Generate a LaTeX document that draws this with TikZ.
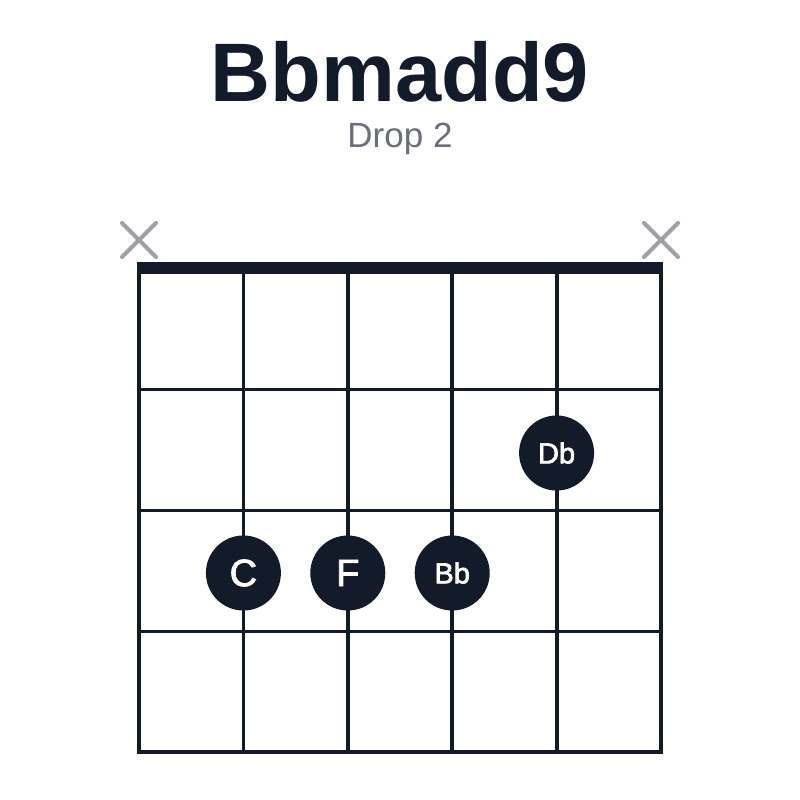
\documentclass[tikz,border=0pt]{standalone}
\usepackage{fontspec}
\setmainfont{Liberation Sans}
\newfontfamily\dotfont[FakeBold=2.2]{Liberation Sans}
\definecolor{ink}{HTML}{131A2A}
\definecolor{mute}{HTML}{9EA1A8}
\definecolor{sub}{HTML}{6B6F78}
\begin{document}
\begin{tikzpicture}[x=1pt,y=-1pt,
  gridline/.style={draw=ink,line width=3.8pt},
  nutline/.style={draw=ink,line width=12pt},
  mutemark/.style={draw=mute,line width=4.2pt,line cap=round},
  notedot/.style={circle,fill=ink,minimum size=75pt,inner sep=0pt,text=white},
  bigtxt/.style={font=\dotfont\fontsize{38}{38}\selectfont},
  smalltxt/.style={font=\dotfont\fontsize{29}{29}\selectfont}]
\useasboundingbox (0,0) rectangle (800,800);
\fill[white] (0,0) rectangle (800,800);
% title
\node[text=ink,font=\fontsize{83}{83}\selectfont\bfseries,anchor=base] (title) at (400,101) {Bbmadd9};
\node[text=sub,font=\fontsize{35}{35}\selectfont,anchor=base] (subtitle) at (400,147) {Drop 2};
% strings
\foreach \i/\x in {1/139,2/243.4,3/347.8,4/452.2,5/556.6,6/661}{
  \coordinate (s\i t) at (\x,268);
  \coordinate (s\i b) at (\x,752);
  \draw[gridline] (s\i t) -- (s\i b);
}
% frets
\foreach \j/\y in {1/389.5,2/510.5,3/631.5,4/752}{
  \coordinate (f\j l) at (137.1,\y);
  \coordinate (f\j r) at (662.9,\y);
  \draw[gridline] (f\j l) -- (f\j r);
}
% nut
\coordinate (nutl) at (137.1,268);
\coordinate (nutr) at (662.9,268);
\draw[nutline] (nutl) -- (nutr);
% muted strings
\coordinate (m1) at (139,240);
\coordinate (m6) at (661,240);
\draw[mutemark] ([shift={(-17,-17)}]m1) -- ([shift={(17,17)}]m1);
\draw[mutemark] ([shift={(-17,17)}]m1) -- ([shift={(17,-17)}]m1);
\draw[mutemark] ([shift={(-17,-17)}]m6) -- ([shift={(17,17)}]m6);
\draw[mutemark] ([shift={(-17,17)}]m6) -- ([shift={(17,-17)}]m6);
% notes
\node[notedot,smalltxt] (db) at (556.6,453) {Db};
\node[notedot,bigtxt] (c) at (243.4,573) {C};
\node[notedot,bigtxt] (f) at (347.8,573) {F};
\node[notedot,smalltxt] (bb) at (452.2,573) {Bb};
\end{tikzpicture}
\end{document}
